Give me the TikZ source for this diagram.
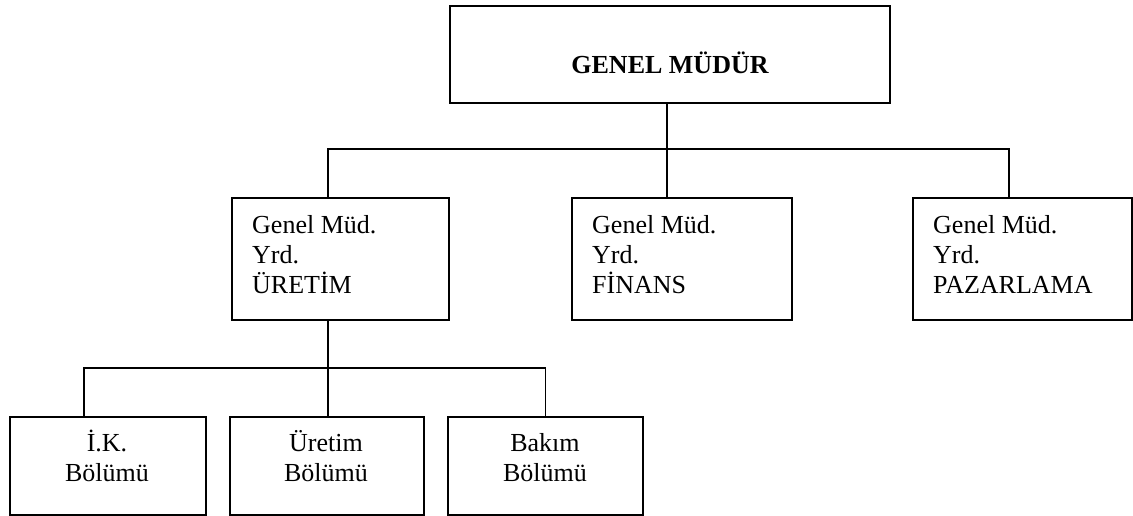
\documentclass[tikz,border=0pt]{standalone}
\usepackage{fontspec}
\setmainfont{Liberation Serif}
\begin{document}
\begin{tikzpicture}[x=1pt,y=1pt,
  box/.style={draw, line width=1.8pt, rectangle, inner sep=0pt, anchor=north west},
  conn/.style={line width=1.8pt},
  lbl/.style={inner sep=0pt, anchor=base west, font=\fontsize{26}{30}\selectfont},
  clbl/.style={inner sep=0pt, anchor=base, font=\fontsize{26}{30}\selectfont}]
\useasboundingbox (0,0) rectangle (1133,-515);
% boxes
\node[box, minimum width=440pt, minimum height=97pt] (gm) at (449,-5) {};
\node[box, minimum width=217pt, minimum height=122pt] (y1) at (231,-197) {};
\node[box, minimum width=220pt, minimum height=122pt] (y2) at (571,-197) {};
\node[box, minimum width=219pt, minimum height=122pt] (y3) at (912,-197) {};
\node[box, minimum width=196pt, minimum height=98pt] (b1) at (9,-416) {};
\node[box, minimum width=194pt, minimum height=98pt] (b2) at (229,-416) {};
\node[box, minimum width=195pt, minimum height=98pt] (b3) at (447,-416) {};
% texts
\node[clbl, font=\fontsize{26}{30}\selectfont\bfseries] (t0) at (670,-73) {GENEL MÜDÜR};
\node[lbl] (t1a) at (252,-233) {Genel Müd.};
\node[lbl] (t1b) at (252,-263) {Yrd.};
\node[lbl] (t1c) at (252,-293) {ÜRETİM};
\node[lbl] (t2a) at (592,-233) {Genel Müd.};
\node[lbl] (t2b) at (592,-263) {Yrd.};
\node[lbl] (t2c) at (592,-293) {FİNANS};
\node[lbl] (t3a) at (933,-233) {Genel Müd.};
\node[lbl] (t3b) at (933,-263) {Yrd.};
\node[lbl] (t3c) at (933,-293) {PAZARLAMA};
\node[clbl] (u1a) at (107,-451) {İ.K.};
\node[clbl] (u1b) at (107,-481) {Bölümü};
\node[clbl] (u2a) at (326,-451) {Üretim};
\node[clbl] (u2b) at (326,-481) {Bölümü};
\node[clbl] (u3a) at (545,-451) {Bakım};
\node[clbl] (u3b) at (545,-481) {Bölümü};
% connectors
\coordinate (c1) at ([xshift=-12.5pt]y1.north);
\coordinate (c3) at ([xshift=-13.5pt]y3.north);
\coordinate (bus1) at (667,-149);
\draw[conn] (gm.south -| bus1) -- (bus1 |- y2.north);
\draw[conn] (c1) -- (c1 |- bus1) -- (c3 |- bus1) -- (c3);
\coordinate (d1) at ([xshift=-12.5pt]y1.south);
\coordinate (e1) at ([xshift=-24pt]b1.north);
\coordinate (bus2) at (327,-368);
\draw[conn] (d1) -- (d1 |- b2.north);
\draw[conn] (e1) -- (e1 |- bus2) -- (b3.north |- bus2) -- (b3.north);
\end{tikzpicture}
\end{document}
